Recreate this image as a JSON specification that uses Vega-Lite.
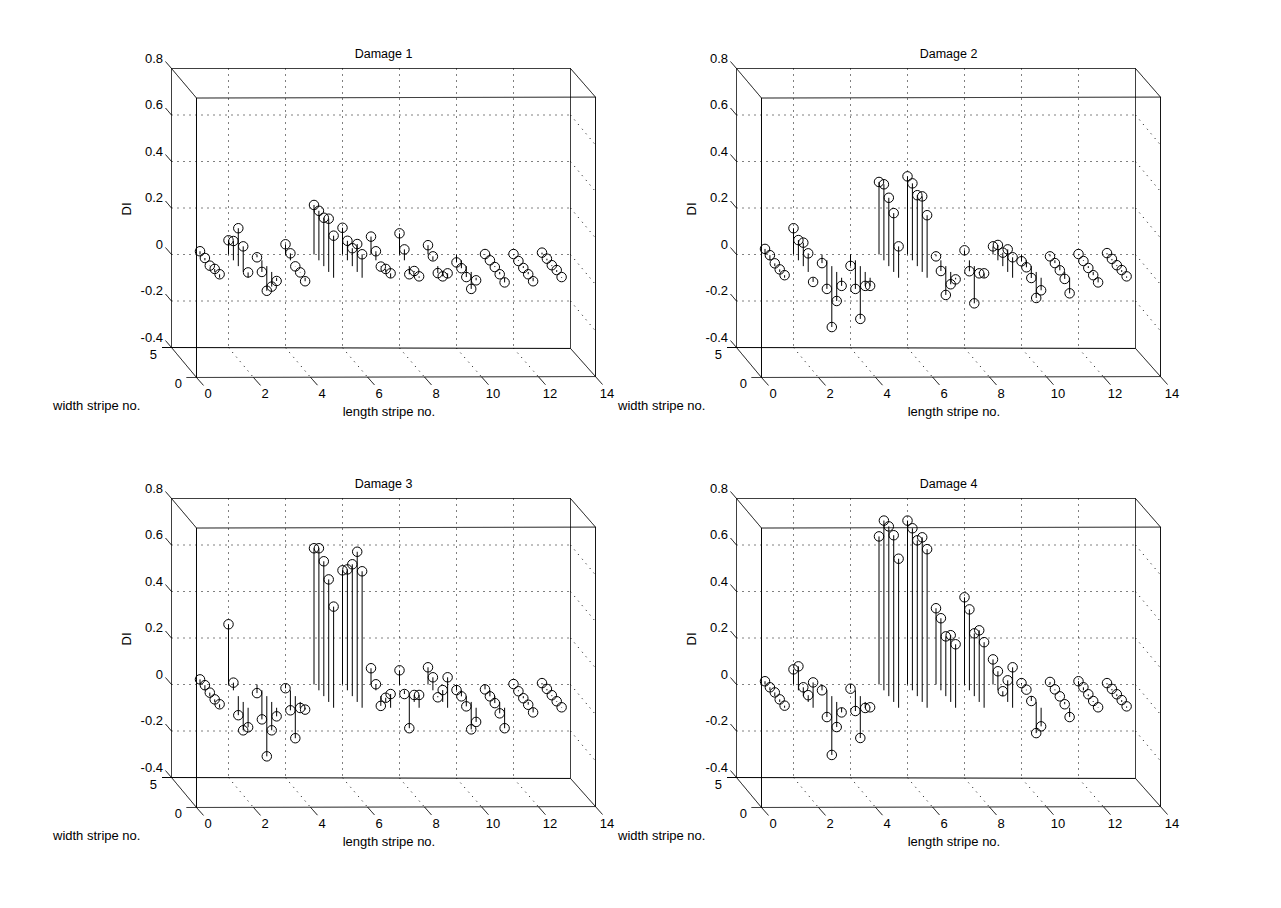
{"$schema":"https://vega.github.io/schema/vega-lite/v6.json","background":"white","padding":{"left":52.5,"top":47.5,"right":0,"bottom":0},"columns":2,"spacing":{"column":141,"row":121},"bounds":"flush","config":{"view":{"stroke":null},"text":{"font":"Liberation Sans","fontSize":13,"color":"#000000","baseline":"middle"},"title":{"font":"Liberation Sans","fontSize":12.5,"fontWeight":"normal","color":"#000000","offset":-8,"anchor":"middle"}},
"datasets":{
"frame":[
{"x":0,"y":0.8,"xe":14,"ye":0.8,"k":"s"},{"x":0.877,"y":0.673,"xe":14.877,"ye":0.677,"k":"s"},{"x":-0.333,"y":-0.4,"xe":14,"ye":-0.404,"k":"s"},{"x":0.526,"y":-0.529,"xe":14.877,"ye":-0.525,"k":"s"},
{"x":0,"y":0.8,"xe":0,"ye":-0.4,"k":"s"},{"x":0.877,"y":0.673,"xe":0.877,"ye":-0.529,"k":"s"},{"x":14,"y":0.8,"xe":14,"ye":-0.404,"k":"s"},{"x":14.877,"y":0.677,"xe":14.877,"ye":-0.525,"k":"s"},
{"x":0,"y":0.8,"xe":0.877,"ye":0.673,"k":"s"},{"x":14,"y":0.8,"xe":14.877,"ye":0.677,"k":"s"},{"x":0,"y":-0.4,"xe":0.877,"ye":-0.529,"k":"s"},{"x":14,"y":-0.404,"xe":14.877,"ye":-0.525,"k":"s"},
{"x":0,"y":0.8,"xe":-0.21,"ye":0.83,"k":"s"},{"x":0,"y":0.6,"xe":-0.21,"ye":0.63,"k":"s"},{"x":0,"y":0.4,"xe":-0.21,"ye":0.43,"k":"s"},{"x":0,"y":0.2,"xe":-0.21,"ye":0.23,"k":"s"},{"x":0,"y":0,"xe":-0.21,"ye":0.03,"k":"s"},{"x":0,"y":-0.2,"xe":-0.21,"ye":-0.17,"k":"s"},{"x":0,"y":-0.4,"xe":-0.21,"ye":-0.37,"k":"s"},
{"x":0.877,"y":-0.529,"xe":1.122,"ye":-0.563,"k":"s"},{"x":2.877,"y":-0.529,"xe":3.122,"ye":-0.563,"k":"s"},{"x":4.877,"y":-0.528,"xe":5.122,"ye":-0.562,"k":"s"},{"x":6.877,"y":-0.527,"xe":7.122,"ye":-0.561,"k":"s"},{"x":8.877,"y":-0.527,"xe":9.122,"ye":-0.561,"k":"s"},{"x":10.877,"y":-0.526,"xe":11.122,"ye":-0.56,"k":"s"},{"x":12.877,"y":-0.526,"xe":13.122,"ye":-0.56,"k":"s"},{"x":14.877,"y":-0.525,"xe":15.122,"ye":-0.559,"k":"s"},
{"x":2,"y":0.8,"xe":2,"ye":-0.4,"k":"d"},{"x":4,"y":0.8,"xe":4,"ye":-0.401,"k":"d"},{"x":6,"y":0.8,"xe":6,"ye":-0.401,"k":"d"},{"x":8,"y":0.8,"xe":8,"ye":-0.402,"k":"d"},{"x":10,"y":0.8,"xe":10,"ye":-0.403,"k":"d"},{"x":12,"y":0.8,"xe":12,"ye":-0.403,"k":"d"},
{"x":2,"y":-0.4,"xe":2.877,"ye":-0.529,"k":"d"},{"x":4,"y":-0.401,"xe":4.877,"ye":-0.528,"k":"d"},{"x":6,"y":-0.401,"xe":6.877,"ye":-0.527,"k":"d"},{"x":8,"y":-0.402,"xe":8.877,"ye":-0.527,"k":"d"},{"x":10,"y":-0.403,"xe":10.877,"ye":-0.526,"k":"d"},{"x":12,"y":-0.403,"xe":12.877,"ye":-0.526,"k":"d"},
{"x":0,"y":0.6,"xe":14,"ye":0.6,"k":"d"},{"x":0,"y":0.4,"xe":14,"ye":0.4,"k":"d"},{"x":0,"y":0.2,"xe":14,"ye":0.2,"k":"d"},{"x":0,"y":0,"xe":14,"ye":0,"k":"d"},{"x":0,"y":-0.2,"xe":14,"ye":-0.2,"k":"d"},
{"x":14,"y":0.6,"xe":14.877,"ye":0.471,"k":"d"},{"x":14,"y":0.4,"xe":14.877,"ye":0.271,"k":"d"},{"x":14,"y":0.2,"xe":14.877,"ye":0.071,"k":"d"},{"x":14,"y":0,"xe":14.877,"ye":-0.129,"k":"d"},{"x":14,"y":-0.2,"xe":14.877,"ye":-0.329,"k":"d"}
],
"labelsRight":[{"x":-0.298,"y":0.843,"t":"0.8"},{"x":-0.298,"y":0.643,"t":"0.6"},{"x":-0.298,"y":0.443,"t":"0.4"},{"x":-0.298,"y":0.243,"t":"0.2"},{"x":-0.298,"y":0.043,"t":"0"},{"x":-0.298,"y":-0.157,"t":"-0.2"},{"x":-0.298,"y":-0.357,"t":"-0.4"},{"x":-0.509,"y":-0.432,"t":"5"},{"x":0.368,"y":-0.557,"t":"0"}],
"labelsCenter":[{"x":1.284,"y":-0.6,"t":"0"},{"x":3.284,"y":-0.6,"t":"2"},{"x":5.284,"y":-0.6,"t":"4"},{"x":7.284,"y":-0.6,"t":"6"},{"x":9.284,"y":-0.6,"t":"8"},{"x":11.284,"y":-0.6,"t":"10"},{"x":13.284,"y":-0.6,"t":"12"},{"x":15.284,"y":-0.6,"t":"14"},{"x":7.63,"y":-0.677,"t":"length stripe no."}],
"labelsLeft":[{"x":-4.158,"y":-0.652,"t":"width stripe no."}],
"labelsRot":[{"x":-1.56,"y":0.196,"t":"DI"}],
"d1":[{"x":1,"y":0.014,"b":0},{"x":1.172,"y":-0.015,"b":-0.025},{"x":1.344,"y":-0.048,"b":-0.05},{"x":1.516,"y":-0.062,"b":-0.075},{"x":1.688,"y":-0.085,"b":-0.1},
{"x":2,"y":0.061,"b":0},{"x":2.172,"y":0.058,"b":-0.025},{"x":2.344,"y":0.113,"b":-0.05},{"x":2.516,"y":0.035,"b":-0.075},{"x":2.688,"y":-0.077,"b":-0.1},
{"x":3,"y":-0.012,"b":0},{"x":3.172,"y":-0.075,"b":-0.025},{"x":3.344,"y":-0.156,"b":-0.05},{"x":3.516,"y":-0.138,"b":-0.075},{"x":3.688,"y":-0.114,"b":-0.1},
{"x":4,"y":0.044,"b":0},{"x":4.172,"y":0.005,"b":-0.025},{"x":4.344,"y":-0.051,"b":-0.05},{"x":4.516,"y":-0.077,"b":-0.075},{"x":4.688,"y":-0.115,"b":-0.1},
{"x":5,"y":0.213,"b":0},{"x":5.172,"y":0.188,"b":-0.025},{"x":5.344,"y":0.158,"b":-0.05},{"x":5.516,"y":0.154,"b":-0.075},{"x":5.688,"y":0.081,"b":-0.1},
{"x":6,"y":0.115,"b":0},{"x":6.172,"y":0.059,"b":-0.025},{"x":6.344,"y":0.027,"b":-0.05},{"x":6.516,"y":0.045,"b":-0.075},{"x":6.688,"y":0.001,"b":-0.1},
{"x":7,"y":0.077,"b":0},{"x":7.172,"y":0.014,"b":-0.025},{"x":7.344,"y":-0.052,"b":-0.05},{"x":7.516,"y":-0.062,"b":-0.075},{"x":7.688,"y":-0.081,"b":-0.1},
{"x":8,"y":0.091,"b":0},{"x":8.172,"y":0.022,"b":-0.025},{"x":8.344,"y":-0.085,"b":-0.05},{"x":8.516,"y":-0.071,"b":-0.075},{"x":8.688,"y":-0.094,"b":-0.1},
{"x":9,"y":0.04,"b":0},{"x":9.172,"y":-0.008,"b":-0.025},{"x":9.344,"y":-0.08,"b":-0.05},{"x":9.516,"y":-0.094,"b":-0.075},{"x":9.688,"y":-0.081,"b":-0.1},
{"x":10,"y":-0.034,"b":0},{"x":10.172,"y":-0.059,"b":-0.025},{"x":10.344,"y":-0.097,"b":-0.05},{"x":10.516,"y":-0.148,"b":-0.075},{"x":10.688,"y":-0.111,"b":-0.1},
{"x":11,"y":0.002,"b":0},{"x":11.172,"y":-0.025,"b":-0.025},{"x":11.344,"y":-0.054,"b":-0.05},{"x":11.516,"y":-0.085,"b":-0.075},{"x":11.688,"y":-0.12,"b":-0.1},
{"x":12,"y":0.002,"b":0},{"x":12.172,"y":-0.028,"b":-0.025},{"x":12.344,"y":-0.058,"b":-0.05},{"x":12.516,"y":-0.085,"b":-0.075},{"x":12.688,"y":-0.115,"b":-0.1},
{"x":13,"y":0.008,"b":0},{"x":13.172,"y":-0.018,"b":-0.025},{"x":13.344,"y":-0.046,"b":-0.05},{"x":13.516,"y":-0.067,"b":-0.075},{"x":13.688,"y":-0.097,"b":-0.1}],
"d2":[{"x":1,"y":0.024,"b":0},{"x":1.172,"y":-0.003,"b":-0.025},{"x":1.344,"y":-0.038,"b":-0.05},{"x":1.516,"y":-0.064,"b":-0.075},{"x":1.688,"y":-0.089,"b":-0.1},
{"x":2,"y":0.113,"b":0},{"x":2.172,"y":0.062,"b":-0.025},{"x":2.344,"y":0.051,"b":-0.05},{"x":2.516,"y":0.005,"b":-0.075},{"x":2.688,"y":-0.118,"b":-0.1},
{"x":3,"y":-0.037,"b":0},{"x":3.172,"y":-0.148,"b":-0.025},{"x":3.344,"y":-0.312,"b":-0.05},{"x":3.516,"y":-0.2,"b":-0.075},{"x":3.688,"y":-0.135,"b":-0.1},
{"x":4,"y":-0.049,"b":0},{"x":4.172,"y":-0.148,"b":-0.025},{"x":4.344,"y":-0.277,"b":-0.05},{"x":4.516,"y":-0.135,"b":-0.075},{"x":4.688,"y":-0.135,"b":-0.1},
{"x":5,"y":0.312,"b":0},{"x":5.172,"y":0.302,"b":-0.025},{"x":5.344,"y":0.244,"b":-0.05},{"x":5.516,"y":0.178,"b":-0.075},{"x":5.688,"y":0.035,"b":-0.1},
{"x":6,"y":0.336,"b":0},{"x":6.172,"y":0.306,"b":-0.025},{"x":6.344,"y":0.255,"b":-0.05},{"x":6.516,"y":0.25,"b":-0.075},{"x":6.688,"y":0.169,"b":-0.1},
{"x":7,"y":-0.008,"b":0},{"x":7.172,"y":-0.071,"b":-0.025},{"x":7.344,"y":-0.174,"b":-0.05},{"x":7.516,"y":-0.128,"b":-0.075},{"x":7.688,"y":-0.107,"b":-0.1},
{"x":8,"y":0.018,"b":0},{"x":8.172,"y":-0.072,"b":-0.025},{"x":8.344,"y":-0.21,"b":-0.05},{"x":8.516,"y":-0.081,"b":-0.075},{"x":8.688,"y":-0.081,"b":-0.1},
{"x":9,"y":0.035,"b":0},{"x":9.172,"y":0.041,"b":-0.025},{"x":9.344,"y":0.008,"b":-0.05},{"x":9.516,"y":0.022,"b":-0.075},{"x":9.688,"y":-0.012,"b":-0.1},
{"x":10,"y":-0.029,"b":0},{"x":10.172,"y":-0.055,"b":-0.025},{"x":10.344,"y":-0.101,"b":-0.05},{"x":10.516,"y":-0.187,"b":-0.075},{"x":10.688,"y":-0.154,"b":-0.1},
{"x":11,"y":-0.008,"b":0},{"x":11.172,"y":-0.037,"b":-0.025},{"x":11.344,"y":-0.068,"b":-0.05},{"x":11.516,"y":-0.105,"b":-0.075},{"x":11.688,"y":-0.167,"b":-0.1},
{"x":12,"y":0.002,"b":0},{"x":12.172,"y":-0.028,"b":-0.025},{"x":12.344,"y":-0.058,"b":-0.05},{"x":12.516,"y":-0.089,"b":-0.075},{"x":12.688,"y":-0.12,"b":-0.1},
{"x":13,"y":0.006,"b":0},{"x":13.172,"y":-0.019,"b":-0.025},{"x":13.344,"y":-0.046,"b":-0.05},{"x":13.516,"y":-0.067,"b":-0.075},{"x":13.688,"y":-0.094,"b":-0.1}],
"d3":[{"x":1,"y":0.022,"b":0},{"x":1.172,"y":-0.003,"b":-0.025},{"x":1.344,"y":-0.035,"b":-0.05},{"x":1.516,"y":-0.064,"b":-0.075},{"x":1.688,"y":-0.085,"b":-0.1},
{"x":2,"y":0.259,"b":0},{"x":2.172,"y":0.008,"b":-0.025},{"x":2.344,"y":-0.132,"b":-0.05},{"x":2.516,"y":-0.197,"b":-0.075},{"x":2.688,"y":-0.184,"b":-0.1},
{"x":3,"y":-0.037,"b":0},{"x":3.172,"y":-0.15,"b":-0.025},{"x":3.344,"y":-0.309,"b":-0.05},{"x":3.516,"y":-0.197,"b":-0.075},{"x":3.688,"y":-0.137,"b":-0.1},
{"x":4,"y":-0.016,"b":0},{"x":4.172,"y":-0.111,"b":-0.025},{"x":4.344,"y":-0.231,"b":-0.05},{"x":4.516,"y":-0.101,"b":-0.075},{"x":4.688,"y":-0.108,"b":-0.1},
{"x":5,"y":0.586,"b":0},{"x":5.172,"y":0.586,"b":-0.025},{"x":5.344,"y":0.53,"b":-0.05},{"x":5.516,"y":0.452,"b":-0.075},{"x":5.688,"y":0.335,"b":-0.1},
{"x":6,"y":0.491,"b":0},{"x":6.172,"y":0.495,"b":-0.025},{"x":6.344,"y":0.517,"b":-0.05},{"x":6.516,"y":0.571,"b":-0.075},{"x":6.688,"y":0.487,"b":-0.1},
{"x":7,"y":0.07,"b":0},{"x":7.172,"y":0.001,"b":-0.025},{"x":7.344,"y":-0.092,"b":-0.05},{"x":7.516,"y":-0.057,"b":-0.075},{"x":7.688,"y":-0.041,"b":-0.1},
{"x":8,"y":0.061,"b":0},{"x":8.172,"y":-0.041,"b":-0.025},{"x":8.344,"y":-0.188,"b":-0.05},{"x":8.516,"y":-0.045,"b":-0.075},{"x":8.688,"y":-0.045,"b":-0.1},
{"x":9,"y":0.074,"b":0},{"x":9.172,"y":0.031,"b":-0.025},{"x":9.344,"y":-0.055,"b":-0.05},{"x":9.516,"y":-0.024,"b":-0.075},{"x":9.688,"y":0.031,"b":-0.1},
{"x":10,"y":-0.024,"b":0},{"x":10.172,"y":-0.051,"b":-0.025},{"x":10.344,"y":-0.094,"b":-0.05},{"x":10.516,"y":-0.193,"b":-0.075},{"x":10.688,"y":-0.161,"b":-0.1},
{"x":11,"y":-0.021,"b":0},{"x":11.172,"y":-0.051,"b":-0.025},{"x":11.344,"y":-0.08,"b":-0.05},{"x":11.516,"y":-0.124,"b":-0.075},{"x":11.688,"y":-0.188,"b":-0.1},
{"x":12,"y":0.002,"b":0},{"x":12.172,"y":-0.029,"b":-0.025},{"x":12.344,"y":-0.059,"b":-0.05},{"x":12.516,"y":-0.087,"b":-0.075},{"x":12.688,"y":-0.12,"b":-0.1},
{"x":13,"y":0.006,"b":0},{"x":13.172,"y":-0.019,"b":-0.025},{"x":13.344,"y":-0.046,"b":-0.05},{"x":13.516,"y":-0.072,"b":-0.075},{"x":13.688,"y":-0.098,"b":-0.1}],
"d4":[{"x":1,"y":0.014,"b":0},{"x":1.172,"y":-0.012,"b":-0.025},{"x":1.344,"y":-0.034,"b":-0.05},{"x":1.516,"y":-0.064,"b":-0.075},{"x":1.688,"y":-0.091,"b":-0.1},
{"x":2,"y":0.065,"b":0},{"x":2.172,"y":0.078,"b":-0.025},{"x":2.344,"y":-0.012,"b":-0.05},{"x":2.516,"y":-0.046,"b":-0.075},{"x":2.688,"y":0.009,"b":-0.1},
{"x":3,"y":-0.025,"b":0},{"x":3.172,"y":-0.14,"b":-0.025},{"x":3.344,"y":-0.303,"b":-0.05},{"x":3.516,"y":-0.183,"b":-0.075},{"x":3.688,"y":-0.12,"b":-0.1},
{"x":4,"y":-0.018,"b":0},{"x":4.172,"y":-0.114,"b":-0.025},{"x":4.344,"y":-0.23,"b":-0.05},{"x":4.516,"y":-0.101,"b":-0.075},{"x":4.688,"y":-0.098,"b":-0.1},
{"x":5,"y":0.637,"b":0},{"x":5.172,"y":0.705,"b":-0.025},{"x":5.344,"y":0.68,"b":-0.05},{"x":5.516,"y":0.642,"b":-0.075},{"x":5.688,"y":0.541,"b":-0.1},
{"x":6,"y":0.705,"b":0},{"x":6.172,"y":0.672,"b":-0.025},{"x":6.344,"y":0.62,"b":-0.05},{"x":6.516,"y":0.633,"b":-0.075},{"x":6.688,"y":0.582,"b":-0.1},
{"x":7,"y":0.328,"b":0},{"x":7.172,"y":0.285,"b":-0.025},{"x":7.344,"y":0.207,"b":-0.05},{"x":7.516,"y":0.212,"b":-0.075},{"x":7.688,"y":0.173,"b":-0.1},
{"x":8,"y":0.375,"b":0},{"x":8.172,"y":0.323,"b":-0.025},{"x":8.344,"y":0.22,"b":-0.05},{"x":8.516,"y":0.233,"b":-0.075},{"x":8.688,"y":0.182,"b":-0.1},
{"x":9,"y":0.108,"b":0},{"x":9.172,"y":0.057,"b":-0.025},{"x":9.344,"y":-0.029,"b":-0.05},{"x":9.516,"y":0.018,"b":-0.075},{"x":9.688,"y":0.074,"b":-0.1},
{"x":10,"y":0.006,"b":0},{"x":10.172,"y":-0.022,"b":-0.025},{"x":10.344,"y":-0.071,"b":-0.05},{"x":10.516,"y":-0.209,"b":-0.075},{"x":10.688,"y":-0.18,"b":-0.1},
{"x":11,"y":0.011,"b":0},{"x":11.172,"y":-0.021,"b":-0.025},{"x":11.344,"y":-0.051,"b":-0.05},{"x":11.516,"y":-0.085,"b":-0.075},{"x":11.688,"y":-0.14,"b":-0.1},
{"x":12,"y":0.014,"b":0},{"x":12.172,"y":-0.012,"b":-0.025},{"x":12.344,"y":-0.042,"b":-0.05},{"x":12.516,"y":-0.071,"b":-0.075},{"x":12.688,"y":-0.098,"b":-0.1},
{"x":13,"y":0.006,"b":0},{"x":13.172,"y":-0.019,"b":-0.025},{"x":13.344,"y":-0.042,"b":-0.05},{"x":13.516,"y":-0.067,"b":-0.075},{"x":13.688,"y":-0.094,"b":-0.1}]
},
"concat":[
{"title":"Damage 1","width":424,"height":309,"encoding":{"x":{"field":"x","type":"quantitative","axis":null,"scale":{"domain":[0,14.877],"nice":false,"zero":false}},"y":{"field":"y","type":"quantitative","axis":null,"scale":{"domain":[-0.529,0.8],"nice":false,"zero":false}}},"layer":[
{"data":{"name":"frame"},"mark":{"type":"rule","stroke":"#000000","strokeWidth":1},"encoding":{"x2":{"field":"xe"},"y2":{"field":"ye"},"strokeDash":{"field":"k","type":"nominal","legend":null,"scale":{"domain":["s","d"],"range":[[1,0],[1,5]]}}}},
{"data":{"name":"d1"},"mark":{"type":"rule","stroke":"#000000","strokeWidth":1},"encoding":{"y2":{"field":"b"}}},
{"data":{"name":"d1"},"mark":{"type":"point","filled":false,"stroke":"#000000","strokeWidth":1,"size":90,"opacity":1}},
{"data":{"name":"labelsRight"},"mark":{"type":"text","align":"right"},"encoding":{"text":{"field":"t"}}},
{"data":{"name":"labelsCenter"},"mark":{"type":"text","align":"center"},"encoding":{"text":{"field":"t"}}},
{"data":{"name":"labelsLeft"},"mark":{"type":"text","align":"left"},"encoding":{"text":{"field":"t"}}},
{"data":{"name":"labelsRot"},"mark":{"type":"text","align":"center","angle":270},"encoding":{"text":{"field":"t"}}}
]},
{"title":"Damage 2","width":424,"height":309,"encoding":{"x":{"field":"x","type":"quantitative","axis":null,"scale":{"domain":[0,14.877],"nice":false,"zero":false}},"y":{"field":"y","type":"quantitative","axis":null,"scale":{"domain":[-0.529,0.8],"nice":false,"zero":false}}},"layer":[
{"data":{"name":"frame"},"mark":{"type":"rule","stroke":"#000000","strokeWidth":1},"encoding":{"x2":{"field":"xe"},"y2":{"field":"ye"},"strokeDash":{"field":"k","type":"nominal","legend":null,"scale":{"domain":["s","d"],"range":[[1,0],[1,5]]}}}},
{"data":{"name":"d2"},"mark":{"type":"rule","stroke":"#000000","strokeWidth":1},"encoding":{"y2":{"field":"b"}}},
{"data":{"name":"d2"},"mark":{"type":"point","filled":false,"stroke":"#000000","strokeWidth":1,"size":90,"opacity":1}},
{"data":{"name":"labelsRight"},"mark":{"type":"text","align":"right"},"encoding":{"text":{"field":"t"}}},
{"data":{"name":"labelsCenter"},"mark":{"type":"text","align":"center"},"encoding":{"text":{"field":"t"}}},
{"data":{"name":"labelsLeft"},"mark":{"type":"text","align":"left"},"encoding":{"text":{"field":"t"}}},
{"data":{"name":"labelsRot"},"mark":{"type":"text","align":"center","angle":270},"encoding":{"text":{"field":"t"}}}
]},
{"title":"Damage 3","width":424,"height":309,"encoding":{"x":{"field":"x","type":"quantitative","axis":null,"scale":{"domain":[0,14.877],"nice":false,"zero":false}},"y":{"field":"y","type":"quantitative","axis":null,"scale":{"domain":[-0.529,0.8],"nice":false,"zero":false}}},"layer":[
{"data":{"name":"frame"},"mark":{"type":"rule","stroke":"#000000","strokeWidth":1},"encoding":{"x2":{"field":"xe"},"y2":{"field":"ye"},"strokeDash":{"field":"k","type":"nominal","legend":null,"scale":{"domain":["s","d"],"range":[[1,0],[1,5]]}}}},
{"data":{"name":"d3"},"mark":{"type":"rule","stroke":"#000000","strokeWidth":1},"encoding":{"y2":{"field":"b"}}},
{"data":{"name":"d3"},"mark":{"type":"point","filled":false,"stroke":"#000000","strokeWidth":1,"size":90,"opacity":1}},
{"data":{"name":"labelsRight"},"mark":{"type":"text","align":"right"},"encoding":{"text":{"field":"t"}}},
{"data":{"name":"labelsCenter"},"mark":{"type":"text","align":"center"},"encoding":{"text":{"field":"t"}}},
{"data":{"name":"labelsLeft"},"mark":{"type":"text","align":"left"},"encoding":{"text":{"field":"t"}}},
{"data":{"name":"labelsRot"},"mark":{"type":"text","align":"center","angle":270},"encoding":{"text":{"field":"t"}}}
]},
{"title":"Damage 4","width":424,"height":309,"encoding":{"x":{"field":"x","type":"quantitative","axis":null,"scale":{"domain":[0,14.877],"nice":false,"zero":false}},"y":{"field":"y","type":"quantitative","axis":null,"scale":{"domain":[-0.529,0.8],"nice":false,"zero":false}}},"layer":[
{"data":{"name":"frame"},"mark":{"type":"rule","stroke":"#000000","strokeWidth":1},"encoding":{"x2":{"field":"xe"},"y2":{"field":"ye"},"strokeDash":{"field":"k","type":"nominal","legend":null,"scale":{"domain":["s","d"],"range":[[1,0],[1,5]]}}}},
{"data":{"name":"d4"},"mark":{"type":"rule","stroke":"#000000","strokeWidth":1},"encoding":{"y2":{"field":"b"}}},
{"data":{"name":"d4"},"mark":{"type":"point","filled":false,"stroke":"#000000","strokeWidth":1,"size":90,"opacity":1}},
{"data":{"name":"labelsRight"},"mark":{"type":"text","align":"right"},"encoding":{"text":{"field":"t"}}},
{"data":{"name":"labelsCenter"},"mark":{"type":"text","align":"center"},"encoding":{"text":{"field":"t"}}},
{"data":{"name":"labelsLeft"},"mark":{"type":"text","align":"left"},"encoding":{"text":{"field":"t"}}},
{"data":{"name":"labelsRot"},"mark":{"type":"text","align":"center","angle":270},"encoding":{"text":{"field":"t"}}}
]}
]}
